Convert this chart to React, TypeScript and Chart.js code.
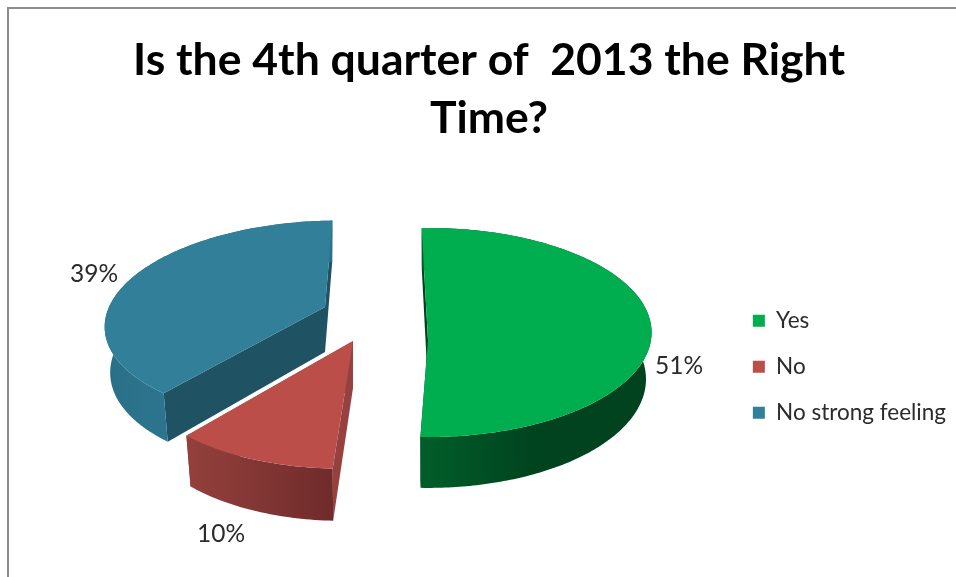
import React, { useEffect, useRef } from "react";
import { Chart, registerables } from "chart.js";

Chart.register(...registerables);

const titleLines = ["Is the 4th quarter of  2013 the Right", "Time?"];
const categories = ["Yes", "No", "No strong feeling"];
const shares = [51, 10, 39];
const topColors = ["#00ae4f", "#bc4e4a", "#327f99"];

const FONT = "Lato, 'Open Sans', sans-serif";
const TEXT = "#2b2b2b";
const PIE_CENTRE = { x: 427, y: 340 };

// How each wedge sits on the page: explosion from the pie centre, plane scale,
// foreshortening (k), lean (q), wall height, wall shades and value label offset.
const wedgeViews = [
  { dx: 1, dy: 0, sx: 223, sy: 104, k: -0.072, q: 0, depth: 47, cut: "#00401c", side: ["#005e2a", "#00431e", "#00431e"], label: [251, 26] },
  { dx: -74, dy: 1, sx: 212, sy: 99, k: 0.225, q: 8, depth: 47, cut: "#96413f", side: ["#94403c", "#823634", "#6f2b2a"], label: [-132, 193] },
  { dx: -102, dy: -33, sx: 216, sy: 98, k: 0.134, q: 14, depth: 45, cut: "#1f5263", side: ["#2a6f88", "#2f7a94", "#2b7089"], label: [-231, -33] },
];
const drawOrder = [2, 1, 0];
const WALL_X_SCALE = 0.975;
const WALL_Y_SCALE = 1.04;

type View = (typeof wedgeViews)[number];

// Maps a clockwise-from-top angle on the pie plane to the canvas.
function project(v: View, theta: number, radius: number, lower: boolean) {
  const X = Math.sin(theta) * radius;
  const Y = Math.cos(theta) * radius;
  const w = 1 + v.k * Y;
  const ox = PIE_CENTRE.x + v.dx;
  const oy = PIE_CENTRE.y + v.dy + (lower ? v.depth : 0);
  return {
    x: ox + ((lower ? WALL_X_SCALE : 1) * (v.sx * X + v.q * Y)) / w,
    y: oy - ((lower ? WALL_Y_SCALE : 1) * v.sy * Y) / w,
  };
}

function rimPoints(v: View, a0: number, a1: number, lower: boolean) {
  const steps = Math.max(2, Math.ceil(((a1 - a0) * 180) / Math.PI));
  const pts = [];
  for (let i = 0; i <= steps; i++) pts.push(project(v, a0 + ((a1 - a0) * i) / steps, 1, lower));
  return pts;
}

function fillPoly(ctx: CanvasRenderingContext2D, pts: { x: number; y: number }[], fill: string | CanvasGradient) {
  ctx.beginPath();
  pts.forEach((p, i) => (i ? ctx.lineTo(p.x, p.y) : ctx.moveTo(p.x, p.y)));
  ctx.closePath();
  ctx.fillStyle = fill;
  ctx.fill();
}

// Renders the pie's arc elements as extruded wedges in perspective.
const extrudedPie = {
  id: "extrudedPie",
  beforeDatasetsDraw(chart: Chart) {
    const ctx = chart.ctx;
    const arcs = chart.getDatasetMeta(0).data as any[];
    drawOrder.forEach((i) => {
      const arc = arcs[i];
      const v = wedgeViews[i];
      const a0 = arc.startAngle + Math.PI / 2;
      const a1 = arc.endAngle + Math.PI / 2;
      const apexTop = project(v, 0, 0, false);
      const apexLow = project(v, 0, 0, true);
      const top = rimPoints(v, a0, a1, false);
      const low = rimPoints(v, a0, a1, true);

      fillPoly(ctx, [apexTop, top[0], low[0], apexLow], v.cut);
      fillPoly(ctx, [apexTop, top[top.length - 1], low[low.length - 1], apexLow], v.cut);

      const xs = top.map((p) => p.x);
      const g = ctx.createLinearGradient(Math.min(...xs), 0, Math.max(...xs), 0);
      v.side.forEach((c, n) => g.addColorStop(n / (v.side.length - 1), c));
      fillPoly(ctx, [...top, ...low.slice().reverse()], g);

      fillPoly(ctx, [apexTop, ...top], arc.options.backgroundColor);
    });
    return false;
  },
  // Value labels go on last, since the default dataset pass is skipped above.
  afterDraw(chart: Chart) {
    const ctx = chart.ctx;
    ctx.save();
    ctx.font = `24.5px ${FONT}`;
    ctx.fillStyle = TEXT;
    ctx.textAlign = "center";
    ctx.textBaseline = "middle";
    shares.forEach((s, i) => {
      const v = wedgeViews[i];
      ctx.fillText(`${s}%`, PIE_CENTRE.x + v.dx + v.label[0], PIE_CENTRE.y + v.dy + v.label[1]);
    });
    ctx.restore();
  },
};

export default function App() {
  const ref = useRef<HTMLCanvasElement>(null);
  useEffect(() => {
    const chart = new Chart(ref.current!, {
      type: "pie",
      data: {
        labels: categories,
        datasets: [{ data: shares, backgroundColor: topColors, borderWidth: 0 }],
      },
      plugins: [extrudedPie],
      options: {
        responsive: false,
        animation: false,
        rotation: -1.5,
        layout: { padding: { top: 32, right: 0, bottom: 0, left: 22 } },
        plugins: {
          tooltip: { enabled: false },
          title: {
            display: true,
            text: titleLines,
            color: "#000000",
            font: { family: FONT, size: 44.5, weight: "bold", lineHeight: 1.3 },
            padding: { top: 0, bottom: 9 },
          },
          legend: {
            position: "right",
            fullSize: false,
            labels: {
              color: TEXT,
              font: { family: FONT, size: 22.5 },
              boxWidth: 12,
              boxHeight: 12,
              padding: 23.5,
            },
          },
        },
      },
    } as any);
    return () => chart.destroy();
  }, []);

  return (
    <div style={{ position: "fixed", left: 0, top: 0, width: 956, height: 577, background: "#fff", overflow: "hidden" }}>
      <canvas ref={ref} width={956} height={577} style={{ display: "block" }} />
      <div
        style={{
          position: "absolute",
          left: 7,
          top: 7,
          right: -4,
          bottom: -4,
          borderTop: "2px solid #8c8c8c",
          borderLeft: "2px solid #8c8c8c",
        }}
      />
    </div>
  );
}
